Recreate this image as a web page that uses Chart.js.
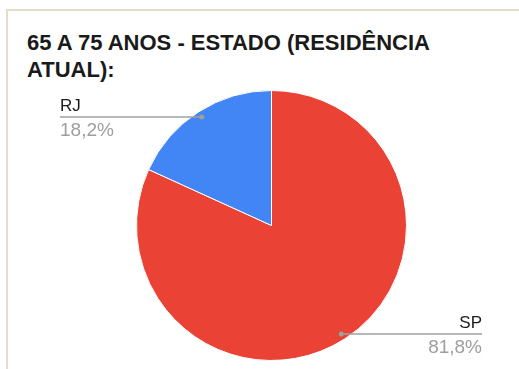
<!DOCTYPE html>
<html lang="pt-BR">
<head>
<meta charset="utf-8">
<title>65 a 75 anos - Estado</title>
<script src="https://cdn.jsdelivr.net/npm/chart.js@4.4.1/dist/chart.umd.min.js"></script>
<style>
    html, body {
        margin: 0;
        padding: 0;
        background: #ffffff;
        overflow: hidden;
    }

    #wrap {
        position: relative;
        width: 519px;
        height: 369px;
    }

    /* frame of the chart card, cut off on the right and bottom */
    #frame {
        position: absolute;
        left: 6px;
        top: 9px;
        width: 530px;
        height: 380px;
        border-left: 2px solid #e4ddc9;
        border-top: 2px solid #e4ddc9;
    }

    #title {
        position: absolute;
        left: 27px;
        top: 29px;
        font-family: "Liberation Sans", Arial, sans-serif;
        font-weight: bold;
        font-size: 22px;
        line-height: 27px;
        color: #1a1a1a;
        white-space: nowrap;
    }

    #estadoChart {
        position: absolute;
        left: 0;
        top: 0;
    }
</style>
</head>
<body>

<div id="wrap">
    <div id="frame"></div>
    <div id="title">65 A 75 ANOS - ESTADO (RESIDÊNCIA<br>ATUAL):</div>
    <canvas id="estadoChart" width="519" height="369"></canvas>
</div>

<script>

// ============================================
// DATA
// ============================================

const estados = ["SP", "RJ"];

const percentuais = [81.8, 18.2];

const cores = ["#ea4335", "#4285f4"];



// ============================================
// LEADER LINES + LABELS (drawn next to each slice)
// ============================================

const sliceLabels = {

    id: "sliceLabels",

    afterDatasetsDraw(chart) {

        const ctx = chart.ctx;
        const meta = chart.getDatasetMeta(0);
        const total = percentuais.reduce((a, b) => a + b, 0);

        meta.data.forEach(function (arc, i) {

            const mid = (arc.startAngle + arc.endAngle) / 2;
            const r = arc.outerRadius * 0.955;

            const px = arc.x + Math.cos(mid) * r;
            const py = arc.y + Math.sin(mid) * r;

            const left = Math.cos(mid) < 0;
            const endX = left ? 60 : 482;

            ctx.save();

            // line
            ctx.strokeStyle = "#a0a0a0";
            ctx.lineWidth = 1.5;
            ctx.beginPath();
            ctx.moveTo(px, py);
            ctx.lineTo(endX, py);
            ctx.stroke();

            // dot
            ctx.fillStyle = "#9aa39a";
            ctx.beginPath();
            ctx.arc(px, py, 2.5, 0, Math.PI * 2);
            ctx.fill();

            ctx.textAlign = left ? "left" : "right";
            ctx.textBaseline = "alphabetic";

            // state name
            ctx.fillStyle = "#1a1a1a";
            ctx.font = "17px 'Liberation Sans', Arial, sans-serif";
            ctx.fillText(estados[i], endX, py - 6);

            // percentage
            const pct = (percentuais[i] / total * 100).toFixed(1).replace(".", ",") + "%";
            ctx.fillStyle = "#9e9e9e";
            ctx.font = "19px 'Liberation Sans', Arial, sans-serif";
            ctx.fillText(pct, endX, py + 19);

            ctx.restore();

        });

    }

};



// ============================================
// PIE
// ============================================

const estadoChart = new Chart(
    document.getElementById("estadoChart"),
    {

        type: "pie",

        data: {

            labels: estados,

            datasets: [{

                data: percentuais,

                backgroundColor: cores,

                borderColor: "#ffffff",

                borderWidth: 1

            }]

        },

        options: {

            responsive: false,

            animation: false,

            layout: {

                padding: {
                    left: 136,
                    right: 112,
                    top: 90,
                    bottom: 8
                }

            },

            plugins: {

                legend: {
                    display: false
                },

                tooltip: {
                    enabled: false
                }

            }

        },

        plugins: [sliceLabels]

    }

);

</script>

</body>
</html>
